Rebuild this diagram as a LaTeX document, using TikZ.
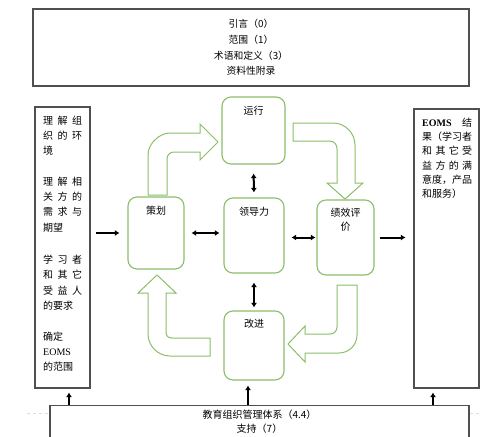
\documentclass[tikz,border=0pt]{standalone}
\usepackage{fontspec}
\setmainfont{Noto Sans CJK SC}
\newfontfamily\latin{Liberation Serif}
\usetikzlibrary{arrows.meta}
\definecolor{gline}{HTML}{8DBE6A}
\definecolor{bline}{HTML}{505050}
\newcommand\spr[2][39pt]{\makebox[#1][s]{#2}}
\begin{document}
\begin{tikzpicture}[x=1pt,y=-1pt,
 rbox/.style={draw=gline, line width=1.1pt, rounded corners=9pt, fill=white, inner sep=0pt},
 sbox/.style={draw=bline, line width=1.1pt, inner sep=0pt},
 garrow/.style={draw=gline, line width=1pt, fill=white, line join=miter},
 barrow/.style={line width=2pt, -{Latex[length=4.5pt,width=6pt]}},
 dbarrow/.style={line width=2pt, {Latex[length=4.5pt,width=6pt]}-{Latex[length=4.5pt,width=6pt]}},
 lbl/.style={anchor=north, font=\fontsize{10}{14}\selectfont, inner sep=0pt, align=center},
 txt/.style={anchor=north west, inner sep=0pt, align=left},
]
\useasboundingbox (0,0) rectangle (500,436);
\clip (0,0) rectangle (500,436);
\fill[white] (0,0) rectangle (500,436);

% outer boxes
\node[sbox, minimum width=436pt, minimum height=77pt, align=center,
      font=\fontsize{9.8}{15.7}\selectfont] (top) at (251,47.5)
      {引言（0）\\范围（1）\\术语和定义（3）\\资料性附录};
\node[sbox, minimum width=55pt, minimum height=281pt] (lbox) at (62.5,247.5) {};
\node[sbox, minimum width=65pt, minimum height=279pt] (rbox) at (446.5,248.5) {};
\node[sbox, minimum width=419pt, minimum height=70pt, anchor=north,
      label={[lbl, yshift=-4.5pt, font=\fontsize{10}{14.5}\selectfont]north:教育组织管理体系（4.4）\\支持（7）}] (bot) at (259.5,405) {};

% left text
\node[txt, font=\fontsize{10}{15.3}\selectfont] (ltxt) at (43,115.5)
 {\spr{理\hfill 解\hfill 组}\\
  \spr{织\hfill 的\hfill 环}\\
  境\\[15.3pt]
  \spr{理\hfill 解\hfill 相}\\
  \spr{关\hfill 方\hfill 的}\\
  \spr{需\hfill 求\hfill 与}\\
  期望\\[17pt]
  \spr{学\hfill 习\hfill 者}\\
  \spr{和\hfill 其\hfill 它}\\
  \spr{受\hfill 益\hfill 人}\\
  的要求\\[15.3pt]
  确定\\
  {\latin EOMS}\\
  的范围};

% right text
\node[txt, font=\fontsize{10}{14.3}\selectfont] (rtxt) at (422,117.5)
 {\spr[50pt]{{\latin\bfseries EOMS}\hfill 结}\\
  果（学习者\\
  \spr[50pt]{和\hfill 其\hfill 它\hfill 受}\\
  \spr[50pt]{益\hfill 方\hfill 的\hfill 满}\\
  意度，产品\\
  和服务）};

% green block arrows
\draw[garrow] (148,195) -- (148,155) .. controls (148,143) and (160,133) .. (170,133)
  -- (200,133) -- (200,124) -- (218,142) -- (200,160) -- (200,152) -- (174,152)
  .. controls (170,152) and (167,155) .. (167,159) -- (167,195) -- cycle;
\draw[garrow] (293,123) -- (333,123) .. controls (345,123) and (355,133) .. (355,145)
  -- (355,183) -- (363,183) -- (345,199) -- (327,183) -- (337,183) -- (337,149)
  .. controls (337,144) and (334,141) .. (329,141) -- (293,141) -- cycle;
\draw[garrow] (337,285) -- (357,285) -- (357,335) .. controls (357,345) and (349,353) .. (339,353)
  -- (305,353) -- (305,362) -- (288,344) -- (305,326) -- (305,334) -- (330,334)
  .. controls (334,334) and (337,331) .. (337,327) -- cycle;
\draw[garrow] (210,338) -- (210,356) -- (170,356) .. controls (158,356) and (148,346) .. (148,334)
  -- (148,293) -- (138,293) -- (157,275) -- (176,293) -- (166,293) -- (166,332)
  .. controls (166,336) and (168,338) .. (172,338) -- cycle;

% rounded process boxes
\node[rbox, minimum width=56pt, minimum height=72pt, label={[lbl, yshift=-9pt]north:策划}] (plan) at (156,233) {};
\node[rbox, minimum width=63pt, minimum height=67pt, label={[lbl, yshift=-9pt]north:运行}] (run) at (253.5,130.5) {};
\node[rbox, minimum width=60pt, minimum height=75pt, label={[lbl, yshift=-9pt]north:领导力}] (lead) at (254,235.5) {};
\node[rbox, minimum width=57pt, minimum height=75pt, label={[lbl, yshift=-8pt]north:绩效评\\价}] (eval) at (345.5,237.5) {};
\node[rbox, minimum width=60pt, minimum height=69pt, label={[lbl, yshift=-8pt]north:改进}] (imp) at (254,345.5) {};

% black connectors
\draw[barrow, shorten <=5pt, shorten >=8pt] (lbox.east |- plan.west) -- (plan.west);
\draw[dbarrow, shorten <=7pt, shorten >=4pt] (plan.east) -- (lead.west |- plan.east);
\draw[dbarrow, shorten <=7pt, shorten >=1pt] (lead.east |- eval.west) -- (eval.west);
\draw[barrow, shorten <=5pt, shorten >=8pt] (eval.east) -- (rbox.west |- eval.east);
\draw[dbarrow, shorten <=9pt, shorten >=5pt] (run.south) -- (lead.north);
\draw[dbarrow, shorten <=9pt, shorten >=3pt] (lead.south) -- (imp.north);
\coordinate (a7) at ([xshift=6.5pt]lbox.south);
\coordinate (a8) at ([xshift=-6pt]imp.south);
\coordinate (a9) at ([xshift=-13.5pt]rbox.south);
\draw[barrow, shorten >=4pt] (a7 |- bot.north) -- (a7);
\draw[barrow, shorten >=5pt] (a8 |- bot.north) -- (a8);
\draw[barrow, shorten >=4pt] (a9 |- bot.north) -- (a9);

% faint guide line
\coordinate (gl) at (27,413);
\coordinate (gr) at (481,413);
\draw[gray!25, dashed, line width=0.6pt] (gl) -- (bot.west |- gl);
\draw[gray!25, dashed, line width=0.6pt] (bot.east |- gr) -- (gr);
\end{tikzpicture}
\end{document}
